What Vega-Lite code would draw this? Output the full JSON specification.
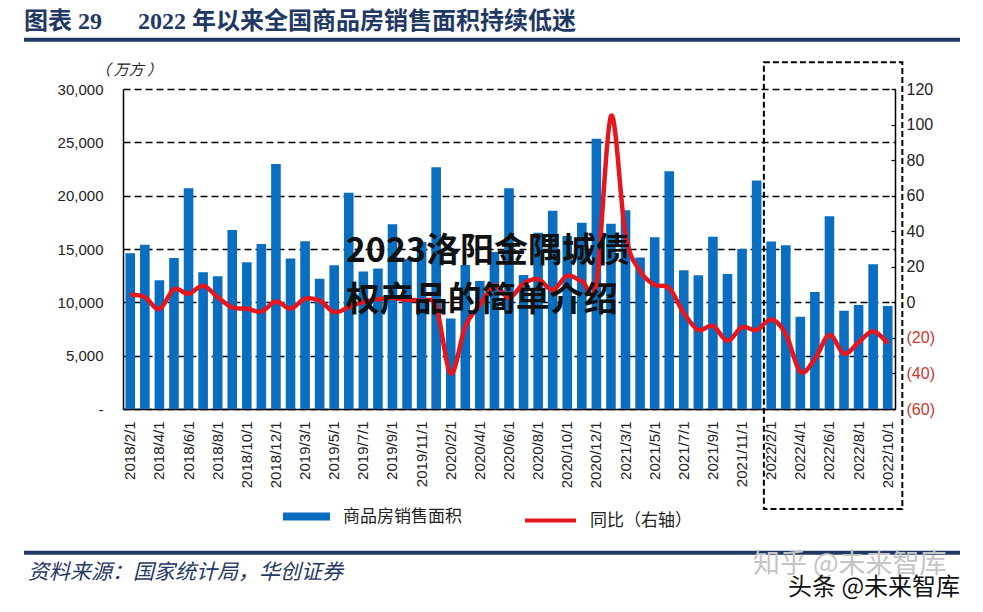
{
  "$schema": "https://vega.github.io/schema/vega-lite/v6.json",
  "width": 772,
  "height": 320,
  "autosize": {"type": "none"},
  "padding": {"left": 123, "top": 89, "right": 88, "bottom": 203},
  "background": "#ffffff",
  "title": {
    "text": "图表 29\u3000\u20022022 年以来全国商品房销售面积持续低迷",
    "anchor": "start",
    "frame": "group",
    "dx": -99,
    "dy": 24,
    "offset": 28,
    "font": "Liberation Serif, Noto Sans CJK SC",
    "fontSize": 24,
    "fontWeight": "bold",
    "color": "#1F3864"
  },
  "config": {
    "view": {"stroke": null},
    "font": "Liberation Sans",
    "axis": {"labelColor": "#222222", "domainColor": "#000000", "domainWidth": 1.5, "labelOverlap": false, "labelSeparation": 0, "labelBound": false, "labelFlush": false}
  },
  "data": {
    "values": [
      {"month": "2018/2/1", "area": 14600, "yoy": 4.2},
      {"month": "2018/3/1", "area": 15410, "yoy": 2.9},
      {"month": "2018/4/1", "area": 12060, "yoy": -3.8},
      {"month": "2018/5/1", "area": 14160, "yoy": 7.4},
      {"month": "2018/6/1", "area": 20690, "yoy": 4.8},
      {"month": "2018/7/1", "area": 12810, "yoy": 9.3},
      {"month": "2018/8/1", "area": 12440, "yoy": 2.9},
      {"month": "2018/9/1", "area": 16780, "yoy": -2.9},
      {"month": "2018/10/1", "area": 13750, "yoy": -3.5},
      {"month": "2018/11/1", "area": 15470, "yoy": -5.2},
      {"month": "2018/12/1", "area": 22970, "yoy": 0.5},
      {"month": "2019/2/1", "area": 14102, "yoy": -3.6},
      {"month": "2019/3/1", "area": 15727, "yoy": 2.0},
      {"month": "2019/4/1", "area": 12210, "yoy": 1.0},
      {"month": "2019/5/1", "area": 13479, "yoy": -5.5},
      {"month": "2019/6/1", "area": 20268, "yoy": -2.7},
      {"month": "2019/7/1", "area": 12894, "yoy": 0.1},
      {"month": "2019/8/1", "area": 13169, "yoy": 1.8},
      {"month": "2019/9/1", "area": 17330, "yoy": 2.5},
      {"month": "2019/10/1", "area": 14072, "yoy": 1.4},
      {"month": "2019/11/1", "area": 15654, "yoy": 0.8},
      {"month": "2019/12/1", "area": 22653, "yoy": -2.5},
      {"month": "2020/2/1", "area": 8475, "yoy": -39.9},
      {"month": "2020/3/1", "area": 13503, "yoy": -13.5},
      {"month": "2020/4/1", "area": 11995, "yoy": -1.5},
      {"month": "2020/5/1", "area": 14730, "yoy": 9.5},
      {"month": "2020/6/1", "area": 20701, "yoy": 2.5},
      {"month": "2020/7/1", "area": 12553, "yoy": 10.5},
      {"month": "2020/8/1", "area": 16529, "yoy": 13.0},
      {"month": "2020/9/1", "area": 18587, "yoy": 7.0},
      {"month": "2020/10/1", "area": 16221, "yoy": 15.0},
      {"month": "2020/11/1", "area": 17455, "yoy": 12.0},
      {"month": "2020/12/1", "area": 25337, "yoy": 11.0},
      {"month": "2021/2/1", "area": 17363, "yoy": 104.9},
      {"month": "2021/3/1", "area": 18644, "yoy": 38.0},
      {"month": "2021/4/1", "area": 14200, "yoy": 17.5},
      {"month": "2021/5/1", "area": 16100, "yoy": 9.8},
      {"month": "2021/6/1", "area": 22300, "yoy": 8.0},
      {"month": "2021/7/1", "area": 13008, "yoy": -6.0},
      {"month": "2021/8/1", "area": 12550, "yoy": -15.6},
      {"month": "2021/9/1", "area": 16139, "yoy": -13.2},
      {"month": "2021/10/1", "area": 12667, "yoy": -21.7},
      {"month": "2021/11/1", "area": 15005, "yoy": -14.0},
      {"month": "2021/12/1", "area": 21429, "yoy": -15.6},
      {"month": "2022/2/1", "area": 15703, "yoy": -9.6},
      {"month": "2022/3/1", "area": 15343, "yoy": -17.7},
      {"month": "2022/4/1", "area": 8652, "yoy": -39.0},
      {"month": "2022/5/1", "area": 10969, "yoy": -31.8},
      {"month": "2022/6/1", "area": 18076, "yoy": -18.3},
      {"month": "2022/7/1", "area": 9213, "yoy": -28.9},
      {"month": "2022/8/1", "area": 9755, "yoy": -22.6},
      {"month": "2022/9/1", "area": 13576, "yoy": -16.2},
      {"month": "2022/10/1", "area": 9655, "yoy": -23.2}
    ]
  },
  "layer": [
    {
      "layer": [
        {
          "mark": {"type": "bar"},
          "encoding": {
            "x": {
              "field": "month",
              "type": "ordinal",
              "scale": {
                "domain": ["2018/2/1","2018/3/1","2018/4/1","2018/5/1","2018/6/1","2018/7/1","2018/8/1","2018/9/1","2018/10/1","2018/11/1","2018/12/1","2019/2/1","2019/3/1","2019/4/1","2019/5/1","2019/6/1","2019/7/1","2019/8/1","2019/9/1","2019/10/1","2019/11/1","2019/12/1","2020/2/1","2020/3/1","2020/4/1","2020/5/1","2020/6/1","2020/7/1","2020/8/1","2020/9/1","2020/10/1","2020/11/1","2020/12/1","2021/2/1","2021/3/1","2021/4/1","2021/5/1","2021/6/1","2021/7/1","2021/8/1","2021/9/1","2021/10/1","2021/11/1","2021/12/1","2022/2/1","2022/3/1","2022/4/1","2022/5/1","2022/6/1","2022/7/1","2022/8/1","2022/9/1","2022/10/1"],
                "paddingInner": 0.34,
                "paddingOuter": 0.17
              },
              "axis": {
                "title": null,
                "values": ["2018/2/1","2018/4/1","2018/6/1","2018/8/1","2018/10/1","2018/12/1","2019/3/1","2019/5/1","2019/7/1","2019/9/1","2019/11/1","2020/2/1","2020/4/1","2020/6/1","2020/8/1","2020/10/1","2020/12/1","2021/3/1","2021/5/1","2021/7/1","2021/9/1","2021/11/1","2022/2/1","2022/4/1","2022/6/1","2022/8/1","2022/10/1"],
                "labelAngle": -90,
                "labelFontSize": 15,
                "labelPadding": 12,
                "labelOverlap": false,
                "ticks": false,
                "grid": false
              }
            },
            "y": {
              "field": "area",
              "type": "quantitative",
              "scale": {"domain": [0, 30000], "nice": false},
              "axis": {
                "title": "（ 万方 ）",
                "titleAngle": 0,
                "titleX": -28,
                "titleY": -20,
                "titleAlign": "left",
                "titleBaseline": "middle",
                "titleFont": "Noto Sans CJK SC",
                "titleFontSize": 15,
                "titleFontWeight": "normal",
                "titleFontStyle": "italic",
                "titleColor": "#222222",
                "values": [0, 5000, 10000, 15000, 20000, 25000, 30000],
                "labelExpr": "datum.value == 0 ? '-' : format(datum.value, ',')",
                "labelFontSize": 15,
                "labelPadding": 20,
                "labelOverlap": false,
                "ticks": false,
                "grid": true,
                "gridColor": "#000000",
                "gridDash": [7, 4],
                "gridWidth": 1.4
              }
            },
            "fill": {
              "datum": "商品房销售面积",
              "scale": {"range": ["#0A6EC0"]},
              "legend": {
                "orient": "none",
                "legendX": 160,
                "legendY": 404,
                "title": null,
                "symbolType": "M-1,-0.17H1V0.17H-1Z",
                "symbolSize": 2209,
                "symbolStrokeWidth": 0,
                "labelFont": "Noto Sans CJK SC",
                "labelFontSize": 17,
                "labelColor": "#222222",
                "labelOffset": 13
              }
            }
          }
        },
        {
          "data": {"values": [{}]},
          "mark": {"type": "rect", "fill": "transparent", "stroke": "#000000", "strokeWidth": 2, "strokeDash": [6, 3]},
          "encoding": {
            "x": {"datum": "2022/2/1", "bandPosition": -0.26},
            "x2": {"datum": "2022/10/1", "bandPosition": 2.02},
            "y": {"datum": 32500},
            "y2": {"datum": -9380}
          }
        },
        {
          "data": {"values": [{}]},
          "mark": {"type": "rule", "stroke": "#1F3864", "strokeWidth": 4},
          "encoding": {
            "x": {"value": -99},
            "x2": {"value": 837},
            "y": {"datum": 34622}
          }
        },
        {
          "data": {"values": [{}]},
          "mark": {"type": "rule", "stroke": "#1F3864", "strokeWidth": 4},
          "encoding": {
            "x": {"value": -99},
            "x2": {"value": 837},
            "y": {"datum": -13472}
          }
        },
        {
          "data": {"values": [{}]},
          "mark": {"type": "text", "align": "left", "baseline": "middle", "font": "Noto Sans CJK SC", "fontSize": 21, "fontStyle": "italic", "fill": "#1F3864"},
          "encoding": {
            "x": {"value": -95},
            "y": {"datum": -15347},
            "text": {"value": "资料来源：国家统计局，华创证券"}
          }
        },
        {
          "data": {"values": [{}]},
          "mark": {"type": "text", "align": "left", "baseline": "middle", "font": "Noto Sans CJK SC", "fontSize": 27, "fill": "#C4C4C4"},
          "encoding": {
            "x": {"value": 630},
            "y": {"datum": -14600},
            "text": {"value": "知乎 @未来智库"}
          }
        },
        {
          "data": {"values": [{}]},
          "mark": {"type": "text", "align": "left", "baseline": "middle", "font": "Noto Sans CJK SC", "fontSize": 24, "fill": "#111111"},
          "encoding": {
            "x": {"value": 665},
            "y": {"datum": -16800},
            "text": {"value": "头条 @未来智库"}
          }
        }
      ]
    },
    {
      "mark": {"type": "line", "interpolate": "cardinal", "tension": 0, "strokeWidth": 4.5},
      "encoding": {
        "x": {"field": "month", "type": "ordinal"},
        "y": {
          "field": "yoy",
          "type": "quantitative",
          "scale": {"domain": [-60, 120], "nice": false},
          "axis": {
            "orient": "right",
            "title": null,
            "values": [-60, -40, -20, 0, 20, 40, 60, 80, 100, 120],
            "labelExpr": "datum.value < 0 ? '(' + abs(datum.value) + ')' : '' + datum.value",
            "labelColor": {"condition": {"test": "datum.value < 0", "value": "#C8372F"}, "value": "#222222"},
            "labelFontSize": 16,
            "labelPadding": 15,
            "labelOverlap": false,
            "labelSeparation": 0,
            "ticks": true,
            "tickSize": -4,
            "tickColor": "#000000",
            "tickWidth": 1.2,
            "grid": false
          }
        },
        "stroke": {
          "datum": "同比（右轴）",
          "scale": {"range": ["#E5161D"]},
          "legend": {
            "orient": "none",
            "legendX": 400,
            "legendY": 404,
            "title": null,
            "symbolType": "stroke",
            "symbolSize": 2601,
            "symbolStrokeWidth": 4,
            "labelFont": "Noto Sans CJK SC",
            "labelFontSize": 17,
            "labelColor": "#222222",
            "labelOffset": 12
          }
        }
      }
    },
    {
      "data": {"values": [{}]},
      "layer": [
        {
          "mark": {"type": "text", "align": "left", "baseline": "middle", "dx": -3, "font": "Noto Sans CJK SC", "fontSize": 34, "fontWeight": "bold", "fill": "#111111"},
          "encoding": {
            "x": {"datum": "2019/6/1"},
            "y": {"datum": 14750, "scale": {"domain": [0, 30000], "nice": false}, "axis": null},
            "text": {"value": "2023洛阳金隅城债"}
          }
        },
        {
          "mark": {"type": "text", "align": "left", "baseline": "middle", "dx": -3, "font": "Noto Sans CJK SC", "fontSize": 34, "fontWeight": "bold", "fill": "#111111"},
          "encoding": {
            "x": {"datum": "2019/6/1"},
            "y": {"datum": 10150, "scale": {"domain": [0, 30000], "nice": false}, "axis": null},
            "text": {"value": "权产品的简单介绍"}
          }
        }
      ]
    }
  ],
  "resolve": {"scale": {"y": "independent"}}
}
